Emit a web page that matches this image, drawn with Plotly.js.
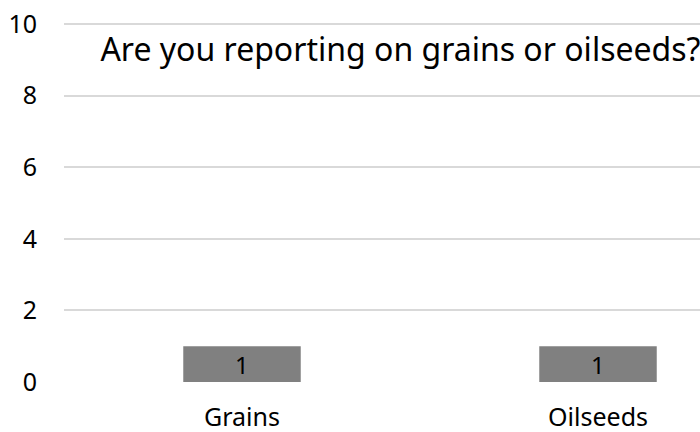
<!DOCTYPE html>
<html><head><meta charset="utf-8">
<script src="https://cdn.plot.ly/plotly-3.0.1.min.js"></script>
<style>html,body{margin:0;padding:0;overflow:hidden;background:#fff}</style>
</head><body><div id="chart" style="width:700px;height:432px"></div>
<script>
const categories = ["Grains", "Oilseeds"];
const counts = [1, 1];
const yTicks = [0, 2, 4, 6, 8, 10];
const chartTitle = "Are you reporting on grains or oilseeds?";

const font = "Noto Sans, Open Sans, sans-serif";
Plotly.newPlot("chart", [{
  type: "bar",
  x: categories,
  y: counts,
  marker: {color: "#808080"},
  width: 0.33,
  hoverinfo: "none"
}], {
  width: 700, height: 432,
  margin: {l: 64, r: 0, t: 23, b: 50},
  paper_bgcolor: "#fff", plot_bgcolor: "#fff",
  font: {family: font, color: "#000"},
  title: {text: chartTitle, font: {family: font, size: 32, color: "#000"},
          x: 0.529, xref: "paper", xanchor: "center", y: 0.885, yanchor: "middle"},
  showlegend: false,
  annotations: categories.map((c, i) => ({
    x: c, y: counts[i] / 2, xref: "x", yref: "y", text: String(counts[i]),
    showarrow: false, font: {family: font, size: 24, color: "#000"}, yanchor: "middle"
  })),
  xaxis: {range: [-0.5, 1.2865], showgrid: false, zeroline: false, showline: false,
          tickfont: {size: 25}, ticks: "", ticklabelstandoff: 18, fixedrange: true},
  yaxis: {range: [0, 10.03], tickvals: yTicks, showgrid: true, gridcolor: "#d9d9d9", gridwidth: 2,
          zeroline: false, showline: false, tickfont: {size: 25}, ticks: "",
          ticklabelstandoff: 26, fixedrange: true}
}, {displayModeBar: false, staticPlot: true});
</script></body></html>
